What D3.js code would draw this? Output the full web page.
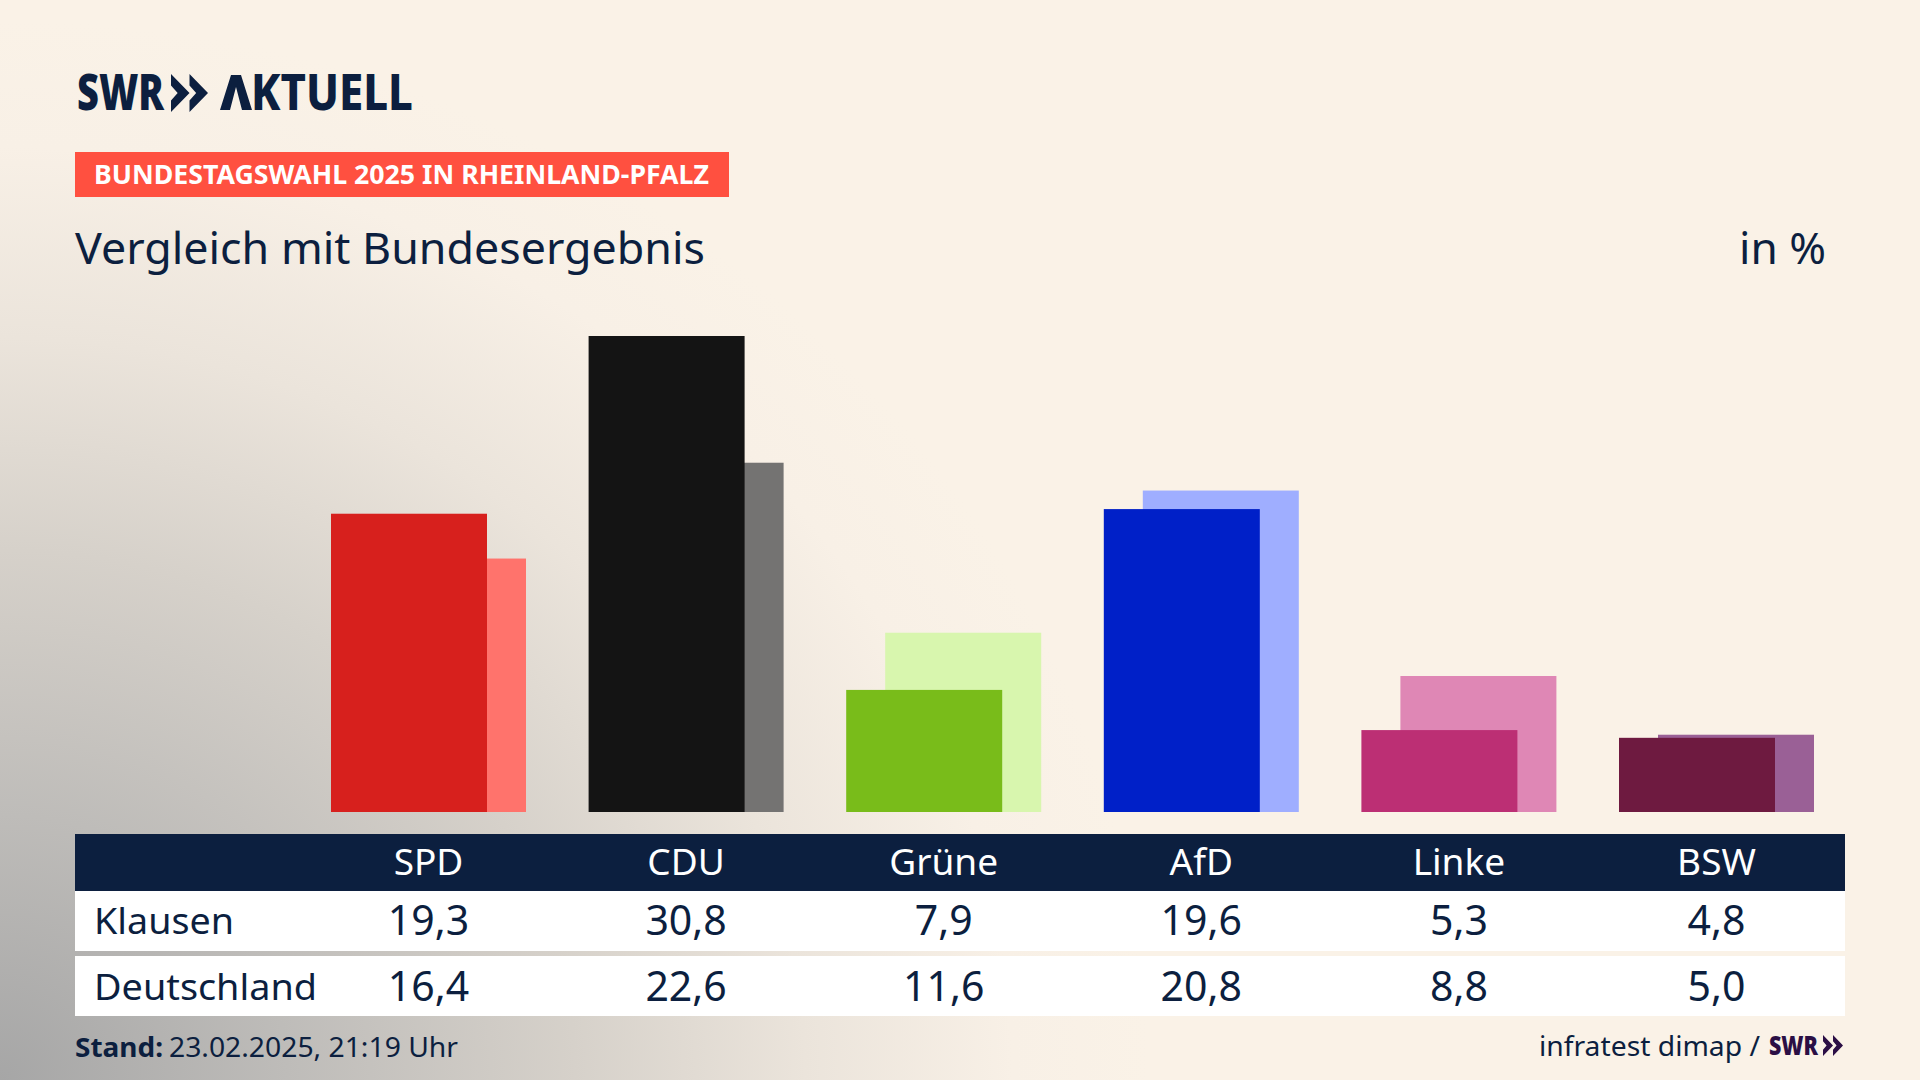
<!DOCTYPE html>
<html>
<head>
<meta charset="utf-8">
<script src="https://cdnjs.cloudflare.com/ajax/libs/d3/7.8.5/d3.min.js"></script>
<style>
  body { margin: 0; background: #faf2e7; overflow: hidden; }
  text { font-family: "Noto Sans", sans-serif; fill: #0c1f3f; }
</style>
</head>
<body>
<svg id="chart" width="1920" height="1080"></svg>
<script>
// Values
var parties = ["SPD", "CDU", "Grüne", "AfD", "Linke", "BSW"];
var klausen = [19.3, 30.8, 7.9, 19.6, 5.3, 4.8];
var deutschland = [16.4, 22.6, 11.6, 20.8, 8.8, 5.0];
var mainColors = ["#d7201d", "#141414", "#79bc1a", "#0020c8", "#bc2f74", "#6e1a40"];
var lightColors = ["#ff736c", "#747372", "#d8f6ae", "#9faeff", "#df87b5", "#9a6096"];
var rowNames = ["Klausen", "Deutschland"];

var navy = "#0c1f3f";
var svg = d3.select("#chart");

// Background: grey glow from the bottom left corner
var defs = svg.append("defs");
var glow = defs.append("radialGradient")
  .attr("id", "glow")
  .attr("gradientUnits", "userSpaceOnUse")
  .attr("cx", 0).attr("cy", 0).attr("r", 1)
  .attr("gradientTransform", "translate(0,1080) scale(1150,1060)");
[[0, "#a6a6a6"], [0.25, "#bebcb9"], [0.5, "#d6d1ca"], [0.7, "#ebe4db"], [0.88, "#f8f0e6"], [1, "#faf2e7"]].forEach(function (s) {
  glow.append("stop").attr("offset", s[0]).attr("stop-color", s[1]);
});
svg.append("rect").attr("width", 1920).attr("height", 1080).attr("fill", "url(#glow)");

// Adds a text, squeezed to the width it has in the reference if one is given
function label(x, y, str, size, width, opts) {
  opts = opts || {};
  var t = svg.append("text")
    .attr("x", x).attr("y", y)
    .attr("font-size", size)
    .attr("font-weight", opts.weight || 400)
    .attr("text-anchor", opts.anchor || "start")
    .style("fill", opts.fill || navy)
    .text(str);
  if (width) t.attr("textLength", width).attr("lengthAdjust", "spacingAndGlyphs");
  return t;
}

// The double chevron from the SWR logo
function chevrons(x, top, w, h, color) {
  var cw = w * 0.5, cut = h * 0.3, mid = top + h / 2;
  [x, x + w - cw].forEach(function (left) {
    var p = d3.path();
    p.moveTo(left, top);
    p.lineTo(left + cw, mid);
    p.lineTo(left, top + h);
    p.lineTo(left, top + h - cut);
    p.lineTo(left + cw * 0.36, mid);
    p.lineTo(left, top + cut);
    p.closePath();
    svg.append("path").attr("d", p.toString()).attr("fill", color);
  });
}

// Header
label(77, 110, "SWR", 49, 87, { weight: 900 });
chevrons(171, 74, 37, 38, navy);

// The logo's A has no crossbar: the letter stays as text, the shape is drawn on top
var logoText = label(220, 110, "", 49, 193, { weight: 800 });
logoText.append("tspan").style("fill-opacity", 0).text("A");
logoText.append("tspan").text("KTUELL");
var logoA = d3.path();
logoA.moveTo(220, 110);
logoA.lineTo(231, 75);
logoA.lineTo(241, 75);
logoA.lineTo(252, 110);
logoA.lineTo(242, 110);
logoA.lineTo(236, 87);
logoA.lineTo(230, 110);
logoA.closePath();
svg.append("path").attr("d", logoA.toString()).attr("fill", navy);

svg.append("rect").attr("x", 75).attr("y", 152).attr("width", 654).attr("height", 45).attr("fill", "#ff5040");
label(94, 184, "BUNDESTAGSWAHL 2025 IN RHEINLAND-PFALZ", 26, 615, { weight: 700, fill: "#ffffff" });

label(75, 264, "Vergleich mit Bundesergebnis", 43, 630);
label(1739, 264, "in %", 43, 87);

// Scales
var x = d3.scalePoint().domain(parties).range([428.5, 1716.5]);
var y = d3.scaleLinear().domain([0, 30.8]).range([812, 336]);
var barWidth = 156, barShift = 39;

var groups = svg.append("g").selectAll("g")
  .data(parties)
  .join("g");

// Federal result sits behind, shifted to the right
groups.append("rect")
  .attr("x", function (d) { return x(d) - (barWidth + barShift) / 2 + barShift; })
  .attr("y", function (d, i) { return y(deutschland[i]); })
  .attr("width", barWidth)
  .attr("height", function (d, i) { return y(0) - y(deutschland[i]); })
  .attr("fill", function (d, i) { return lightColors[i]; });

groups.append("rect")
  .attr("x", function (d) { return x(d) - (barWidth + barShift) / 2; })
  .attr("y", function (d, i) { return y(klausen[i]); })
  .attr("width", barWidth)
  .attr("height", function (d, i) { return y(0) - y(klausen[i]); })
  .attr("fill", function (d, i) { return mainColors[i]; });

// Table
var tableLeft = 75, tableWidth = 1770;
svg.append("rect").attr("x", tableLeft).attr("y", 834).attr("width", tableWidth).attr("height", 57).attr("fill", navy);
svg.append("rect").attr("x", tableLeft).attr("y", 891).attr("width", tableWidth).attr("height", 60).attr("fill", "#ffffff");
svg.append("rect").attr("x", tableLeft).attr("y", 956).attr("width", tableWidth).attr("height", 60).attr("fill", "#ffffff");

function fmt(v) { return v.toFixed(1).replace(".", ","); }

parties.forEach(function (p, i) {
  label(x(p), 875, p, 37, null, { anchor: "middle", fill: "#ffffff" });
  label(x(p), 935, fmt(klausen[i]), 41, null, { anchor: "middle" });
  label(x(p), 1001, fmt(deutschland[i]), 41, null, { anchor: "middle" });
});
label(94, 934, rowNames[0], 36, 140);
label(94, 1000, rowNames[1], 36, 223);

// Footer
label(75, 1057, "Stand:", 27, 88, { weight: 700 });
label(169, 1057, "23.02.2025, 21:19 Uhr", 27, 289);
label(1539, 1056, "infratest dimap /", 27, 221);
label(1769, 1055, "SWR", 26, 49, { weight: 900, fill: "#2b0f45" });
chevrons(1823, 1035, 20, 21, "#2b0f45");
</script>
</body>
</html>
